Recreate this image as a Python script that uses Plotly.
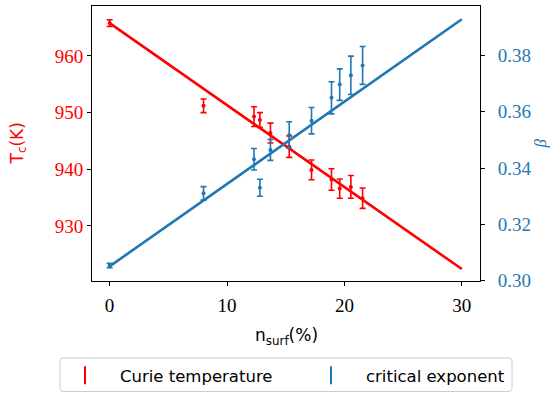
import plotly.graph_objects as go

# Data
n_surf = [0.0, 8.0, 12.3, 12.8, 13.7, 15.3, 17.2, 18.9, 19.6, 20.55, 21.55]
tc = [965.8, 951.2, 949.3, 948.7, 946.4, 944.0, 939.9, 938.2, 936.6, 936.9, 934.9]
tc_err = [0.6, 1.2, 1.75, 1.3, 1.75, 1.9, 1.75, 1.9, 1.7, 2.0, 1.8]

beta = [0.3054, 0.3310, 0.3431, 0.3330, 0.3464, 0.3517, 0.3568, 0.3649, 0.3696, 0.3729, 0.3764]
beta_err = [0.0008, 0.0024, 0.0038, 0.0030, 0.0037, 0.0047, 0.0047, 0.0057, 0.0056, 0.0068, 0.0067]

fit_x = [0, 30]
tc_fit = [965.8, 922.4]
beta_fit = [0.3051, 0.3928]

x_ticks = [0, 10, 20, 30]
tc_ticks = [930, 940, 950, 960]
beta_ticks = [0.30, 0.32, 0.34, 0.36, 0.38]

RED = "#ff0000"
BLUE = "#1f77b4"
SERIF = "Liberation Serif"
SANS = "DejaVu Sans"

fig = go.Figure()

fig.add_trace(go.Scatter(
    x=n_surf, y=tc, mode="markers", yaxis="y", showlegend=False,
    marker=dict(color=RED, size=4),
    error_y=dict(type="data", array=tc_err, color=RED, thickness=1.6, width=3),
))
fig.add_trace(go.Scatter(
    x=fit_x, y=tc_fit, mode="lines", yaxis="y", showlegend=False,
    line=dict(color=RED, width=2.6),
))
fig.add_trace(go.Scatter(
    x=n_surf, y=beta, mode="markers", yaxis="y2", showlegend=False,
    marker=dict(color=BLUE, size=4),
    error_y=dict(type="data", array=beta_err, color=BLUE, thickness=1.6, width=3),
))
fig.add_trace(go.Scatter(
    x=fit_x, y=beta_fit, mode="lines", yaxis="y2", showlegend=False,
    line=dict(color=BLUE, width=2.6),
))

# legend glyphs
fig.add_trace(go.Scatter(
    x=[None], y=[None], mode="markers", name="Curie temperature", legend="legend",
    marker=dict(symbol="line-ns", size=13, color=RED, line=dict(color=RED, width=2)),
))
fig.add_trace(go.Scatter(
    x=[None], y=[None], mode="markers", name="critical exponent", legend="legend2",
    marker=dict(symbol="line-ns", size=13, color=BLUE, line=dict(color=BLUE, width=2)),
))

L, R, T, B = 92, 75, 6, 113
PW, PH = 555 - L - R, 394 - T - B


def px_x(p):
    return (p - L) / PW


def px_y(p):
    return (394 - B - p) / PH


leg_common = dict(
    orientation="h", xanchor="left", yanchor="top", y=px_y(358),
    borderwidth=0, bgcolor="rgba(0,0,0,0)",
    font=dict(family=SANS, size=16.5, color="black"), itemwidth=60,
)

# legend frame (rounded box)
x0, x1, y0, y1 = px_x(60), px_x(512), px_y(391.5), px_y(358)
rx, ry = 3 / PW, 3 / PH
frame_path = (
    f"M{x0 + rx},{y1} L{x1 - rx},{y1} Q{x1},{y1} {x1},{y1 - ry} "
    f"L{x1},{y0 + ry} Q{x1},{y0} {x1 - rx},{y0} L{x0 + rx},{y0} "
    f"Q{x0},{y0} {x0},{y0 + ry} L{x0},{y1 - ry} Q{x0},{y1} {x0 + rx},{y1} Z"
)

fig.update_layout(
    width=555, height=394,
    margin=dict(l=L, r=R, t=T, b=B, autoexpand=False),
    paper_bgcolor="white", plot_bgcolor="white",
    xaxis=dict(
        range=[-1.5, 31.55], tickvals=x_ticks, ticks="outside", ticklen=4,
        tickwidth=1, tickcolor="black", showline=True, linecolor="black",
        linewidth=1, mirror=True, showgrid=False, zeroline=False,
        tickfont=dict(family=SERIF, size=19, color="black"),
        ticklabelstandoff=3,
    ),
    yaxis=dict(
        range=[920.29, 968.82], tickvals=tc_ticks, ticks="outside", ticklen=4,
        tickwidth=1, tickcolor="black", showline=True, linecolor="black",
        linewidth=1, showgrid=False, zeroline=False,
        tickfont=dict(family=SERIF, size=19, color=RED),
    ),
    yaxis2=dict(
        range=[0.2999, 0.3975], tickvals=beta_ticks, ticktext=[f"{v:.2f}" for v in beta_ticks],
        overlaying="y", side="right", ticks="outside", ticklen=4,
        tickwidth=1, tickcolor="black", showline=True, linecolor="black",
        linewidth=1, showgrid=False, zeroline=False,
        tickfont=dict(family=SERIF, size=19, color=BLUE),
        ticklabelstandoff=9,
    ),
    legend=dict(leg_common, x=px_x(50)),
    legend2=dict(leg_common, x=px_x(296)),
    shapes=[dict(type="path", xref="paper", yref="paper", path=frame_path,
                 line=dict(color="#cccccc", width=1), fillcolor="white", layer="below")],
    annotations=[
        dict(text="T<sub>c</sub>(K)", xref="paper", yref="paper", x=0, y=0.5,
             xanchor="center", yanchor="middle",
             xshift=-74, textangle=-90, showarrow=False,
             font=dict(family=SANS, size=17, color=RED)),
        dict(text="<i>β</i>", xref="paper", yref="paper", x=1, y=0.5,
             xanchor="center", yanchor="middle",
             xshift=60, textangle=-90, showarrow=False,
             font=dict(family=SERIF, size=17, color=BLUE)),
        dict(text="n<sub>surf</sub>(%)", xref="paper", yref="paper", x=0.5, y=0,
             xanchor="center", yanchor="middle",
             yshift=-55, showarrow=False,
             font=dict(family=SANS, size=17, color="black")),
    ],
)

fig.write_html("out.html")
